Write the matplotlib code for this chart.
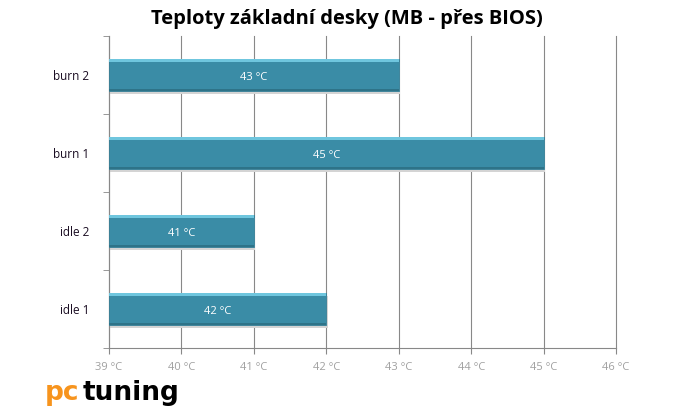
import matplotlib.pyplot as plt
import numpy as np

# data
categories = ['idle 1', 'idle 2', 'burn 1', 'burn 2']
temps = [42, 41, 45, 43]
xticks = [39, 40, 41, 42, 43, 44, 45, 46]
title = 'Teploty základní desky (MB - přes BIOS)'

plt.rcParams['font.family'] = ['Open Sans', 'DejaVu Sans']

fig = plt.figure(figsize=(6.78, 4.12), dpi=100)
ax = fig.add_axes([0.1608, 0.1553, 0.7478, 0.7573])

y = np.arange(len(categories))
h = 0.41
base = xticks[0]
vals = np.array(temps) - base

# shadow, body, highlight strip, dark lower edge
ax.barh(y - 0.035, vals + 0.02, height=h, left=base, color='#d4d4d4', zorder=2)
ax.barh(y, vals, height=h, left=base, color='#3A8CA6', edgecolor='#357F96', linewidth=0.6, zorder=3)
ax.barh(y + h / 2 - 0.02, vals, height=0.035, left=base, color='#6FC6DE', zorder=4)
ax.barh(y - h / 2 + 0.012, vals, height=0.024, left=base, color='#2E7388', zorder=4)

for yi, t in zip(y, temps):
    ax.text(base + (t - base) / 2, yi - 0.035, f'{t} °C', color='white', fontsize=8,
            ha='center', va='center', zorder=5)

ax.set_xlim(xticks[0], xticks[-1])
ax.set_ylim(-0.5, len(categories) - 0.5)
ax.set_xticks(xticks)
ax.set_xticklabels([f'{t} °C' for t in xticks], color='#A0A0A0', fontsize=8)
ax.set_yticks(y)
ax.set_yticklabels(categories, color='#1a0d22', fontsize=8.5)
ax.set_yticks(np.arange(len(categories) + 1) - 0.5, minor=True)
ax.tick_params(axis='y', which='major', length=0, pad=14)
ax.tick_params(axis='y', which='minor', length=4, color='#888888')
ax.tick_params(axis='x', length=4, color='#888888', pad=6)
ax.grid(axis='x', color='#888888', linewidth=0.8, zorder=1)
for gl in ax.get_xgridlines():
    gl.set_clip_on(False)
ax.set_axisbelow(True)
for s in ['top', 'right']:
    ax.spines[s].set_visible(False)
for s in ['left', 'bottom']:
    ax.spines[s].set_color('#888888')

fig.text(0.512, 0.955, title, ha='center', va='center', fontsize=14.5, fontweight='bold',
         family=['Open Sans', 'DejaVu Sans'])

# logo
fig.text(0.066, 0.03, 'pc', color='#F7941D', fontsize=19, fontweight='bold',
         family=['DejaVu Sans'], ha='left', va='baseline')
fig.text(0.122, 0.03, 'tuning', color='black', fontsize=19, fontweight='bold',
         family=['DejaVu Sans'], ha='left', va='baseline')

fig.savefig('out.png', dpi=100)
